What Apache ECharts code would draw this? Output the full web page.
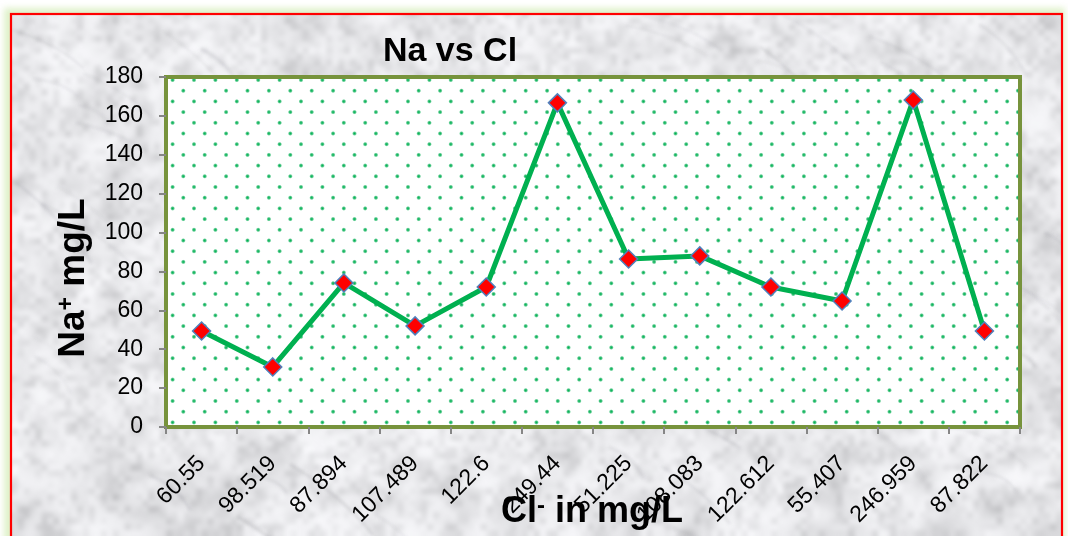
<!DOCTYPE html>
<html>
<head>
<meta charset="utf-8">
<script src="https://cdn.jsdelivr.net/npm/echarts@6/dist/echarts.min.js"></script>
<style>
  html, body { margin: 0; padding: 0; background: #ffffff; }
  #chart { width: 1068px; height: 536px; }
</style>
</head>
<body>
<div id="chart"></div>
<script>
// Chloride concentrations (category labels) and the matching sodium readings
const categories = ['60.55', '98.519', '87.894', '107.489', '122.6', '249.44',
                    '51.225', '108.083', '122.612', '55.407', '246.959', '87.822'];
const naValues = [49.4, 30.9, 74.1, 52.0, 72.0, 166.7, 86.4, 88.0, 72.0, 64.8, 168.2, 49.4];
const yMin = 0;
const yMax = 180;
const yStep = 20;

const FONT = '"Liberation Sans", Arial, sans-serif';
const W = 1068, H = 536;

// deterministic hash used for the stone texture
function hash(i, j, s) {
  const v = Math.sin(i * 127.1 + j * 311.7 + s * 74.7) * 43758.5453;
  return v - Math.floor(v);
}

// page backdrop: pale green glow, grey marble panel and a red frame
function makeBackground() {
  const c = document.createElement('canvas');
  c.width = W; c.height = H;
  const g = c.getContext('2d');
  g.fillStyle = '#ffffff';
  g.fillRect(0, 0, W, H);

  g.save();
  g.filter = 'blur(3px)';
  g.fillStyle = '#dff1c9';
  g.fillRect(4, 8, W - 7, H);
  g.restore();

  const fx = 11, fy = 14, fw = 1051;
  g.save();
  g.beginPath();
  g.rect(fx, fy, fw, H);
  g.clip();
  g.fillStyle = '#eeeff1';
  g.fillRect(fx, fy, fw, H);

  const layers = [[30, 15, 0.45, 1], [72, 36, 0.4, 2], [180, 90, 0.25, 3]];
  layers.forEach(([nx, ny, a, seed]) => {
    const s = document.createElement('canvas');
    s.width = nx; s.height = ny;
    const sg = s.getContext('2d');
    const img = sg.createImageData(nx, ny);
    for (let j = 0; j < ny; j++) {
      for (let i = 0; i < nx; i++) {
        const v = hash(i, j, seed);
        const gray = Math.round(250 - Math.pow(v, 2.8) * 85);
        const k = (j * nx + i) * 4;
        img.data[k] = gray; img.data[k + 1] = gray; img.data[k + 2] = Math.min(255, gray + 3); img.data[k + 3] = 255;
      }
    }
    sg.putImageData(img, 0, 0);
    g.globalAlpha = a;
    g.imageSmoothingEnabled = true;
    g.imageSmoothingQuality = 'high';
    g.drawImage(s, 0, 0, W, H);
  });
  g.globalAlpha = 1;

  // faint diagonal veins
  g.filter = 'blur(1.5px)';
  for (let n = 0; n < 70; n++) {
    const x = hash(n, 1, 9) * W;
    const y = hash(n, 2, 9) * H;
    const len = 30 + hash(n, 3, 9) * 90;
    const ang = 0.35 + hash(n, 4, 9) * 0.5;
    g.strokeStyle = 'rgba(120,120,128,' + (0.08 + hash(n, 5, 9) * 0.12).toFixed(3) + ')';
    g.lineWidth = 1 + hash(n, 6, 9) * 2.5;
    g.beginPath();
    g.moveTo(x, y);
    g.quadraticCurveTo(x + len * 0.5 * Math.cos(ang) + 8, y + len * 0.5 * Math.sin(ang) - 6,
                       x + len * Math.cos(ang), y + len * Math.sin(ang));
    g.stroke();
  }
  g.filter = 'none';
  g.restore();

  g.strokeStyle = '#ff0000';
  g.lineWidth = 2.2;
  g.strokeRect(fx, fy, fw, H + 40);
  return c;
}

// white plot fill with a staggered grid of small green dots
function makeDotTile() {
  const p = 21.4, n = 5, size = 107;
  const c = document.createElement('canvas');
  c.width = size; c.height = size;
  const g = c.getContext('2d');
  g.fillStyle = '#ffffff';
  g.fillRect(0, 0, size, size);
  const offs = [[12.1, 5.1], [1.4, 15.8]];
  const dot = (x, y) => {
    const gr = g.createRadialGradient(x, y, 0, x, y, 2.5);
    gr.addColorStop(0, 'rgba(0,176,80,1)');
    gr.addColorStop(0.5, 'rgba(20,180,95,0.8)');
    gr.addColorStop(1, 'rgba(60,190,120,0)');
    g.fillStyle = gr;
    g.beginPath();
    g.arc(x, y, 2.5, 0, Math.PI * 2);
    g.fill();
  };
  for (let i = 0; i < n; i++) {
    for (let j = 0; j < n; j++) {
      for (const [ox, oy] of offs) {
        for (const dx of [-size, 0, size]) {
          for (const dy of [-size, 0, size]) {
            dot(ox + i * p + dx, oy + j * p + dy);
          }
        }
      }
    }
  }
  return c;
}

const chart = echarts.init(document.getElementById('chart'), null, { renderer: 'canvas' });

const nameRich = (big, small) => ({
  m: { fontSize: big, fontWeight: 'bold', fontFamily: FONT, fill: '#000' },
  s: { fontSize: small, fontWeight: 'bold', fontFamily: FONT, fill: '#000', verticalAlign: 'top' }
});

chart.setOption({
  animation: false,
  backgroundColor: 'transparent',
  graphic: [
    { type: 'image', z: -100, silent: true,
      style: { image: makeBackground(), x: 0, y: 0, width: W, height: H } },
    { type: 'text', x: 450, y: 52, silent: true,
      style: { text: 'Na vs Cl', fontSize: 34, fontWeight: 'bold', fontFamily: FONT, fill: '#000',
               align: 'center', verticalAlign: 'middle', textAlign: 'center', textVerticalAlign: 'middle' } },
    { type: 'text', x: 74, y: 278, rotation: Math.PI / 2, silent: true,
      style: { text: '{m|Na}{s|+}{m| mg/L}', rich: nameRich(37, 23),
               align: 'center', verticalAlign: 'middle', textAlign: 'center', textVerticalAlign: 'middle' } },
    { type: 'text', x: 592, y: 512, silent: true,
      style: { text: '{m|Cl}{s|-}{m| in mg/L}', rich: nameRich(36, 24),
               align: 'center', verticalAlign: 'middle', textAlign: 'center', textVerticalAlign: 'middle' } }
  ],
  grid: {
    show: true,
    left: 166, top: 77, right: 48, bottom: 109,
    borderColor: '#77933c',
    borderWidth: 4,
    backgroundColor: { image: makeDotTile(), repeat: 'repeat' }
  },
  xAxis: {
    type: 'category',
    data: categories,
    boundaryGap: true,
    axisLine: { show: false },
    axisTick: { show: true, alignWithLabel: false, length: 7, lineStyle: { color: '#868686', width: 2 } },
    axisLabel: { interval: 0, rotate: 45, margin: 33, fontSize: 23, fontFamily: FONT, color: '#000' },
    splitLine: { show: false }
  },
  yAxis: {
    type: 'value',
    min: yMin, max: yMax, interval: yStep,
    axisLine: { show: false },
    axisTick: { show: true, length: 7, lineStyle: { color: '#868686', width: 2 } },
    axisLabel: { margin: 23, fontSize: 23, fontFamily: FONT, color: '#000' },
    splitLine: { show: false }
  },
  series: [{
    type: 'line',
    data: naValues,
    symbol: 'diamond',
    symbolSize: 18,
    showAllSymbol: true,
    lineStyle: { color: '#00b050', width: 5 },
    itemStyle: { color: '#ff0000', borderColor: '#4f81bd', borderWidth: 1.5 },
    z: 5
  }]
});
</script>
</body>
</html>
